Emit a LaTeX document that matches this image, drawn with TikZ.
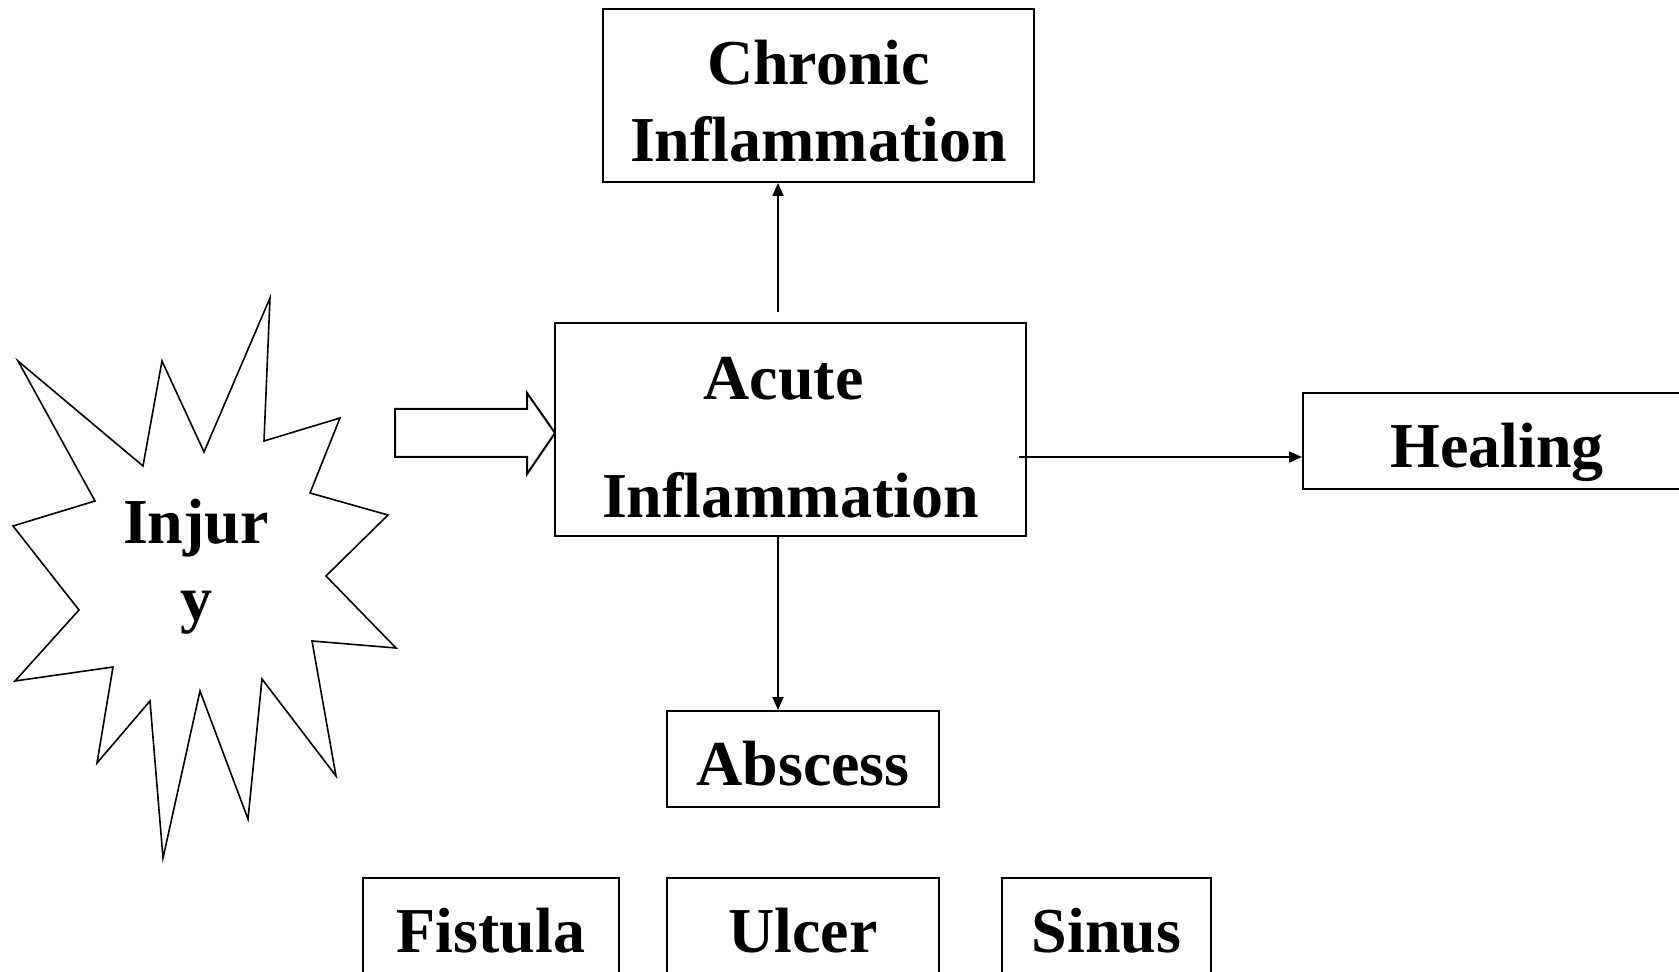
\documentclass[tikz,border=0pt]{standalone}
\usepackage{fontspec}
\setmainfont{Liberation Serif}
\usetikzlibrary{arrows.meta}

\begin{document}
\begin{tikzpicture}[x=0.5pt,y=-0.5pt,
	txt/.style={inner sep=0pt,align=center,font=\bfseries\fontsize{32}{38.5}\selectfont},
	box/.style={txt,draw,line width=1pt},
	one/.style={text height=26.5pt,text depth=0pt},
	conn/.style={line width=0.9pt,-{Triangle[length=6.5pt,width=5.5pt]}}]
	\useasboundingbox (0,0) rectangle (1679,972);
	\node [box, minimum width=215.5pt, minimum height=86.5pt] (chronic) at (818.5,95.5) {\rule{0pt}{27.5pt}Chronic\\Inflammation};
	\node [box, minimum width=235.5pt, minimum height=106.5pt] (acute) at (790.5,429.5) {\rule{0pt}{29.5pt}Acute\hspace*{7pt}\\[20.5pt]Inflammation};
	\node [box, one, minimum width=194pt, minimum height=48pt] (healing) at (1497,441) {Healing};
	\node [box, one, minimum width=136pt, minimum height=48pt] (abscess) at (803,759) {Abscess};
	\node [box, one, minimum width=128pt, minimum height=48pt] (fistula) at (491,926) {Fistula};
	\node [box, one, minimum width=136pt, minimum height=48pt] (ulcer) at (803,926) {Ulcer};
	\node [box, one, minimum width=104.5pt, minimum height=48pt] (sinus) at (1106.5,926) {Sinus};
	\draw [line width=0.8pt] (270,298) -- (264,441) -- (340,418) -- (310,493) -- (388,515) -- (326,576)
		-- (396,648) -- (312,641) -- (336,776) -- (262,679) -- (248,819) -- (200,691) -- (163,858)
		-- (150,701) -- (97,763) -- (113,667) -- (15,681) -- (79,610) -- (13,526) -- (95,501)
		-- (18,361) -- (143,466) -- (162,361) -- (204,452) -- cycle;
	\node [txt] (injury) at (196,567) {Injur\\y};
	\draw [line width=1pt] (395,409) -- (527,409) -- (527,393) -- (555,433) -- (527,474) -- (527,457) -- (395,457) -- cycle;
	\coordinate (up) at (778,312);
	\coordinate (right) at (1019,457);
	\draw [conn] (up) -- (up |- chronic.south);
	\draw [conn] (up |- acute.south) -- (up |- abscess.north);
	\draw [conn] (right) -- (right -| healing.west);
\end{tikzpicture}
\end{document}
